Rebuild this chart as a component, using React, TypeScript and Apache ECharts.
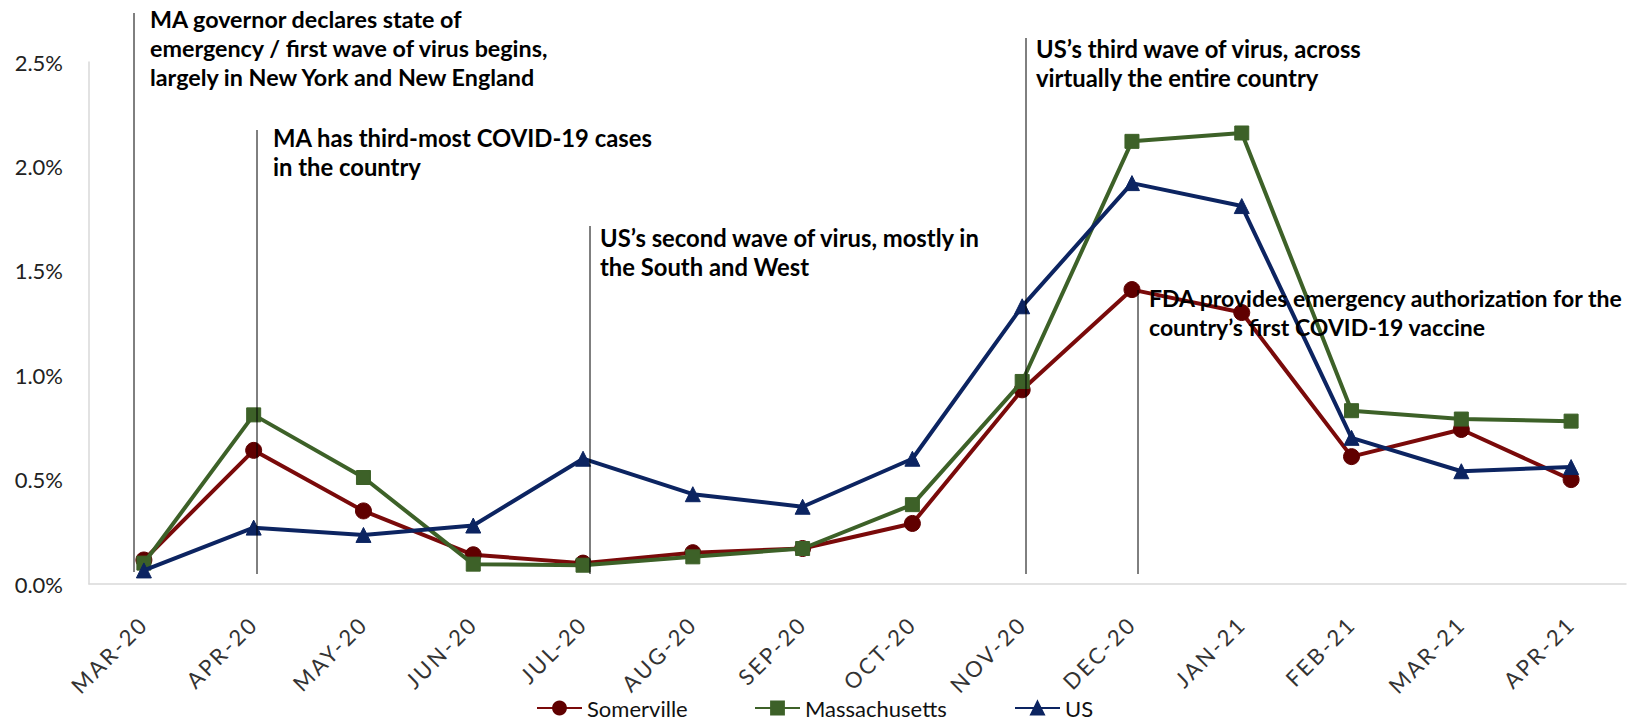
import React, { useEffect, useRef } from "react";
import * as echarts from "echarts";

const months = [
  "MAR-20", "APR-20", "MAY-20", "JUN-20", "JUL-20", "AUG-20", "SEP-20",
  "OCT-20", "NOV-20", "DEC-20", "JAN-21", "FEB-21", "MAR-21", "APR-21",
];
const somerville = [0.115, 0.64, 0.35, 0.14, 0.1, 0.15, 0.17, 0.29, 0.93, 1.41, 1.3, 0.61, 0.74, 0.5];
const massachusetts = [0.1, 0.81, 0.51, 0.095, 0.09, 0.13, 0.17, 0.38, 0.97, 2.12, 2.16, 0.83, 0.79, 0.78];
const us = [0.065, 0.27, 0.235, 0.28, 0.6, 0.43, 0.37, 0.6, 1.33, 1.92, 1.81, 0.7, 0.54, 0.56];

const seriesNames = ["Somerville", "Massachusetts", "US"];

const noteGovernor = "MA governor declares state of\nemergency / first wave of virus begins,\nlargely in New York and New England";
const noteThirdMost = "MA has third-most COVID-19 cases\nin the country";
const noteSecondWave = "US\u2019s second wave of virus, mostly in\nthe South and West";
const noteThirdWave = "US\u2019s third wave of virus, across\nvirtually the entire country";
const noteVaccine = "FDA provides emergency authorization for the\ncountry\u2019s first COVID-19 vaccine";

const FONT = "Lato, 'Open Sans', sans-serif";
const RED = "#7A0A0A";
const RED_MARK = "#600000";
const GREEN = "#3D6128";
const BLUE = "#0C2461";

function note(text: string, x: number, y: number, size = 23.8) {
  return {
    type: "text",
    x,
    y,
    z: 100,
    style: {
      text,
      fontSize: size,
      fontWeight: "bold",
      fontFamily: FONT,
      fill: "#000",
      lineHeight: 29,
      verticalAlign: "top",
      align: "left",
    },
  };
}

function vline(x: number, y1: number, y2: number) {
  return {
    type: "line",
    z: 100,
    shape: { x1: x, y1, x2: x, y2 },
    style: { stroke: "#000", lineWidth: 1 },
  };
}

export default function App() {
  const ref = useRef<HTMLDivElement>(null);
  useEffect(() => {
    if (!ref.current) return;
    const chart = echarts.init(ref.current, undefined, { renderer: "svg" });
    const legendText = { fontSize: 22, fontFamily: FONT, color: "#111" };
    chart.setOption({
      animation: false,
      backgroundColor: "#fff",
      grid: { left: 89, right: 1, top: 62, bottom: 136, containLabel: false },
      xAxis: {
        type: "category",
        data: months,
        boundaryGap: true,
        axisLine: { show: true, lineStyle: { color: "#D9D9D9", width: 1.5 } },
        axisTick: { show: false },
        axisLabel: {
          rotate: 45,
          margin: 36,
          fontSize: 22,
          fontFamily: FONT,
          color: "#333",
          interval: 0,
        },
      },
      yAxis: {
        type: "value",
        min: 0,
        max: 2.5,
        interval: 0.5,
        splitLine: { show: false },
        axisLine: { show: true, lineStyle: { color: "#D9D9D9", width: 1.5 } },
        axisTick: { show: false },
        axisLabel: {
          margin: 26,
          fontSize: 22,
          fontFamily: FONT,
          color: "#222",
          formatter: (v: number) => v.toFixed(1) + "%",
        },
      },
      legend: [
        { data: [seriesNames[0]], left: 536, top: 697, padding: 0, itemWidth: 45, itemHeight: 16, textStyle: legendText },
        { data: [seriesNames[1]], left: 754, top: 697, padding: 0, itemWidth: 45, itemHeight: 16, textStyle: legendText },
        { data: [seriesNames[2]], left: 1014, top: 697, padding: 0, itemWidth: 45, itemHeight: 16, textStyle: legendText },
      ],
      series: [
        {
          name: seriesNames[0],
          type: "line",
          data: somerville,
          symbol: "circle",
          symbolSize: 16,
          lineStyle: { color: RED, width: 4 },
          itemStyle: { color: RED_MARK, borderColor: RED_MARK, borderWidth: 1 },
          z: 3,
        },
        {
          name: seriesNames[1],
          type: "line",
          data: massachusetts,
          symbol: "rect",
          symbolSize: 14,
          lineStyle: { color: GREEN, width: 4 },
          itemStyle: { color: GREEN, borderColor: GREEN, borderWidth: 1 },
          z: 4,
        },
        {
          name: seriesNames[2],
          type: "line",
          data: us,
          symbol: "triangle",
          symbolSize: 15,
          lineStyle: { color: BLUE, width: 4 },
          itemStyle: { color: BLUE, borderColor: BLUE, borderWidth: 1 },
          z: 5,
        },
      ],
      graphic: [
        vline(134, 13, 572),
        note(noteGovernor, 150, 4, 23.3),
        vline(257, 130, 574),
        note(noteThirdMost, 273, 123),
        vline(590, 226, 574),
        note(noteSecondWave, 600, 223),
        vline(1026, 38, 574),
        note(noteThirdWave, 1036, 34),
        vline(1138, 290, 574),
        note(noteVaccine, 1149, 283, 23),
      ],
    });
    const spaceLabels = () => {
      const svg = ref.current?.querySelector("svg");
      if (!svg) return;
      svg.querySelectorAll("text").forEach((t) => {
        if (months.includes((t.textContent || "").trim())) {
          (t as SVGTextElement).style.letterSpacing = "2.5px";
        }
      });
    };
    spaceLabels();
    chart.on("finished", spaceLabels);
    const raf = requestAnimationFrame(spaceLabels);
    return () => {
      cancelAnimationFrame(raf);
      chart.dispose();
    };
  }, []);
  return (
    <div
      id="chartbox"
      ref={ref}
      style={{ position: "absolute", left: 0, top: 0, width: 1627, height: 720 }}
    />
  );
}
